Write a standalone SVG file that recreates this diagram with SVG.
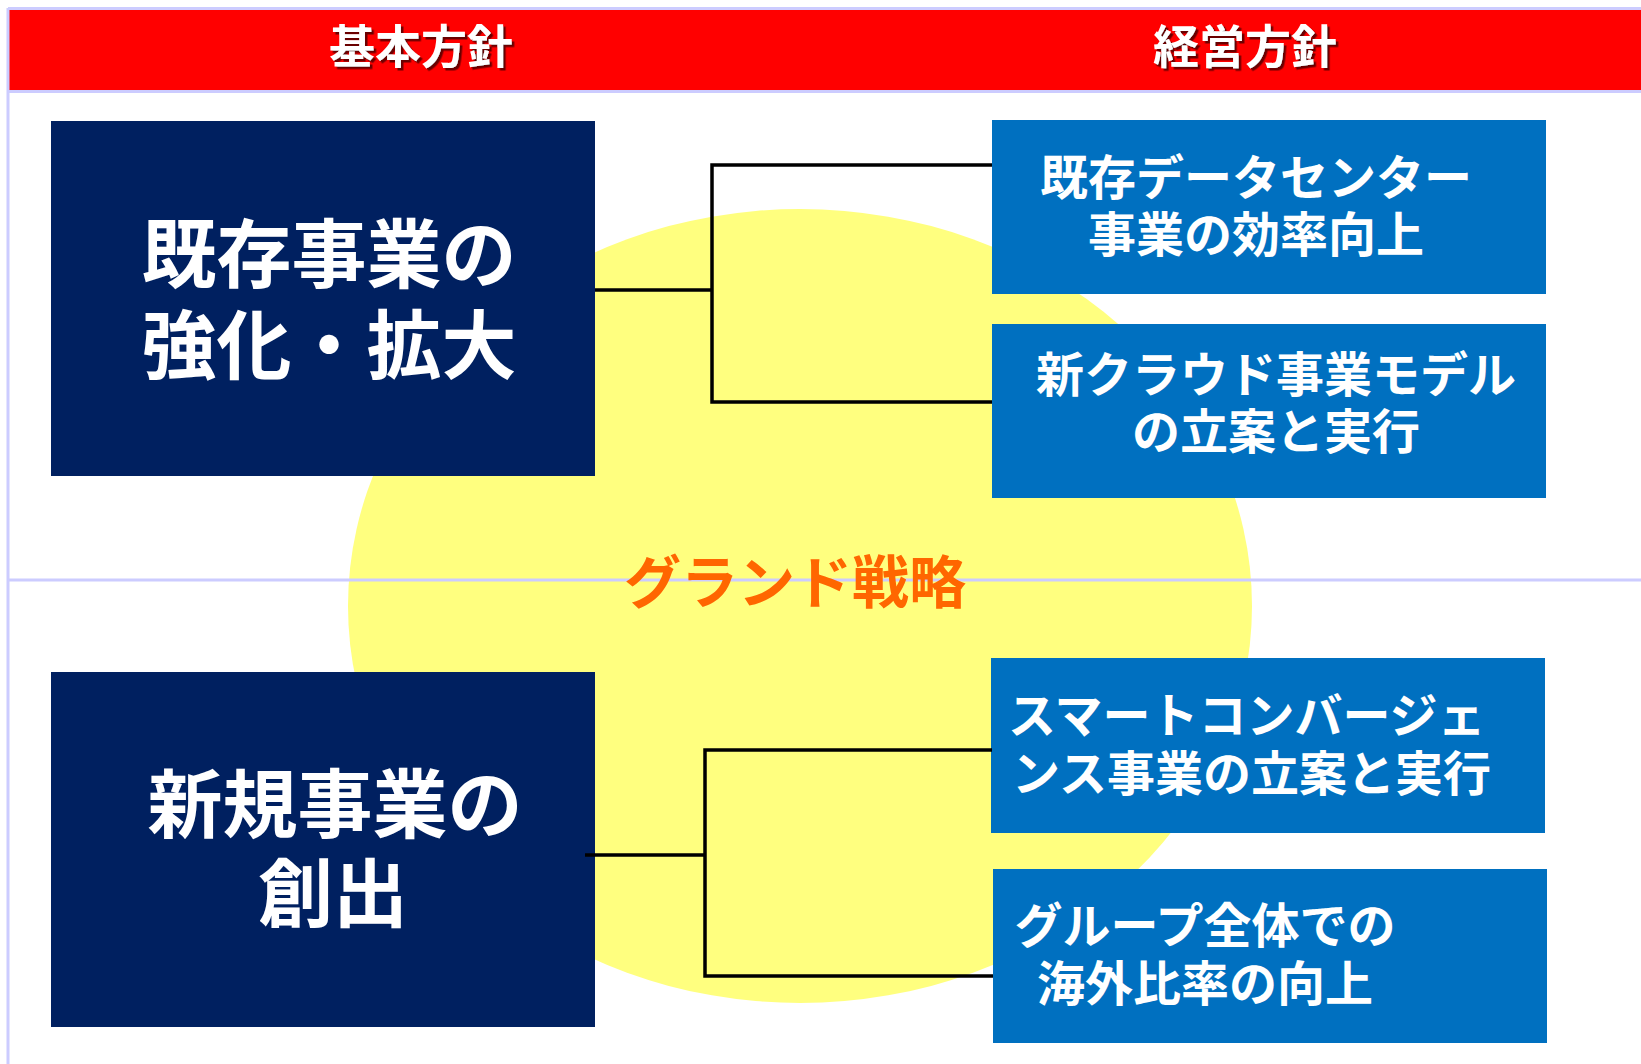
<svg xmlns="http://www.w3.org/2000/svg" width="1641" height="1064" viewBox="0 0 1641 1064">
<style>
.jp{font-family:"Noto Sans CJK JP","Noto Sans CJK SC",sans-serif;font-weight:bold}
.hdr{fill:#ffffff;font-size:46px;text-anchor:middle}
.big{fill:#ffffff;font-size:75px;text-anchor:middle}
.mid{fill:#ffffff;font-size:48px}
.grid{stroke:#ccccff;stroke-width:3;fill:none}
.conn{stroke:#000000;stroke-width:3.5;fill:none}
.navy{fill:#002060}
.blue{fill:#0070c0}
</style>
<defs>
<filter id="sh" x="-10%" y="-10%" width="130%" height="140%">
<feDropShadow dx="2.5" dy="2.5" stdDeviation="0.6" flood-color="#6a0000" flood-opacity="1"/>
</filter>
</defs>
<rect width="1641" height="1064" fill="#ffffff"/>
<g id="background">
<ellipse cx="800" cy="606" rx="452" ry="397" fill="#ffff7f"/>
<rect x="9" y="10" width="1632" height="80" fill="#ff0000"/>
<path class="grid" d="M8 8.5H1641M8 91.5H1641M8 580H1641M8 8V1064"/>
</g>
<g id="header">
<text class="jp hdr" x="421" y="63" filter="url(#sh)">基本方針</text>
<text class="jp hdr" x="1245" y="63" filter="url(#sh)">経営方針</text>
</g>
<g id="grand">
<text class="jp" x="795" y="603" font-size="57" fill="#ff6600" text-anchor="middle">グランド戦略</text>
</g>
<g id="node-kizon">
<rect class="navy" x="51" y="121" width="544" height="355"/>
<text class="jp big"><tspan x="329" y="282">既存事業の</tspan><tspan x="329" y="373">強化・拡大</tspan></text>
</g>
<g id="node-shinki">
<rect class="navy" x="51" y="672" width="544" height="355"/>
<text class="jp big"><tspan x="335" y="832">新規事業の</tspan><tspan x="333" y="921">創出</tspan></text>
</g>
<g id="node-datacenter">
<rect class="blue" x="992" y="120" width="554" height="174"/>
<text class="jp mid" text-anchor="middle"><tspan x="1256" y="195">既存データセンター</tspan><tspan x="1256" y="252">事業の効率向上</tspan></text>
</g>
<g id="node-cloud">
<rect class="blue" x="992" y="324" width="554" height="174"/>
<text class="jp mid" text-anchor="middle"><tspan x="1276" y="392">新クラウド事業モデル</tspan><tspan x="1276" y="449">の立案と実行</tspan></text>
</g>
<g id="node-smart">
<rect class="blue" x="991" y="658" width="554" height="175"/>
<text class="jp mid"><tspan x="1008" y="733">スマートコンバージェ</tspan><tspan x="1012" y="791">ンス事業の立案と実行</tspan></text>
</g>
<g id="node-global">
<rect class="blue" x="993" y="869" width="554" height="174"/>
<text class="jp mid" text-anchor="middle"><tspan x="1205" y="943">グループ全体での</tspan><tspan x="1205" y="1001">海外比率の向上</tspan></text>
</g>
<g id="connectors">
<path class="conn" d="M595 290H712M992 165H712V402H992"/>
<path class="conn" d="M585 855H705M992 750H705V976H993"/>
</g>
</svg>
